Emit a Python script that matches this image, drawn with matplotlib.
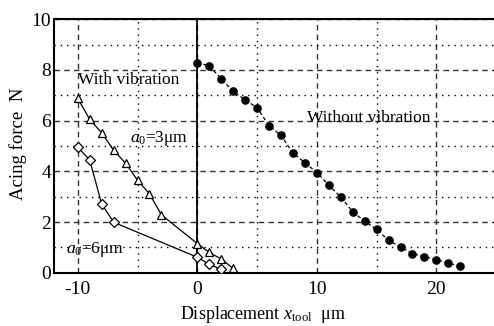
import matplotlib
matplotlib.use("Agg")
import matplotlib.pyplot as plt
from matplotlib.ticker import MultipleLocator

plt.rcParams['font.family'] = ['Liberation Serif', 'DejaVu Serif']
plt.rcParams['mathtext.fontset'] = 'custom'
plt.rcParams['mathtext.rm'] = 'Liberation Serif'
plt.rcParams['mathtext.it'] = 'Liberation Serif:italic'
plt.rcParams['axes.unicode_minus'] = False

# without vibration
x_novib = list(range(0, 23))
f_novib = [8.29, 8.16, 7.65, 7.15, 6.82, 6.51, 5.80, 5.42, 4.72, 4.34, 3.95, 3.45,
           2.99, 2.40, 2.03, 1.71, 1.28, 1.01, 0.75, 0.63, 0.51, 0.38, 0.25]

# with vibration, a0 = 3 um
x_a3 = [-10, -9, -8, -7, -6, -5, -4, -3, 0, 1, 2, 3]
f_a3 = [6.88, 6.05, 5.52, 4.83, 4.32, 3.65, 3.11, 2.28, 1.15, 0.80, 0.54, 0.17]

# with vibration, a0 = 6 um
x_a6 = [-10, -9, -8, -7, 0, 1, 2]
f_a6 = [4.95, 4.45, 2.71, 1.99, 0.61, 0.33, 0.13]

fig = plt.figure(figsize=(4.94, 3.26), dpi=100)
ax = fig.add_axes([0.109, 0.1635, 0.893, 0.7775])

ax.set_xlim(-12.0, 24.9)
ax.set_ylim(0, 10)
ax.xaxis.set_major_locator(MultipleLocator(10))
ax.xaxis.set_minor_locator(MultipleLocator(5))
ax.yaxis.set_major_locator(MultipleLocator(2))
ax.yaxis.set_minor_locator(MultipleLocator(1))
ax.grid(which='major', color='#333333', ls=(0, (4, 3)), lw=1.0)
ax.grid(which='minor', color='black', ls=(0, (1, 3.5)), lw=1.0)
ax.tick_params(which='both', length=0, labelsize=14)
ax.tick_params(axis='x', pad=6)
ax.tick_params(axis='y', pad=2)
ax.axvline(0, color='black', lw=1.3, zorder=2)

for side in ['left', 'top', 'bottom']:
    ax.spines[side].set_linewidth(1.5)
ax.spines['right'].set_visible(False)

ax.plot(x_novib, f_novib, color='black', ls=(0, (3, 2)), lw=0.9,
        marker='o', ms=5.2, mfc='black', mec='black', zorder=3)
ax.plot(x_a3, f_a3, color='black', lw=0.9, marker='^', ms=6.3,
        mfc='white', mec='black', mew=0.9, zorder=3)
ax.plot(x_a6, f_a6, color='black', lw=0.9, marker='D', ms=5.3,
        mfc='white', mec='black', mew=0.9, zorder=3)

ax.text(-10.0, 7.6, 'With vibration', fontsize=12.5, va='center', ha='left')
ax.text(-5.6, 5.3, '$a_0$=3μm', fontsize=12.5, va='center', ha='left')
ax.text(-11.0, 0.9, '$a_0$=6μm', fontsize=12.5, va='center', ha='left')
ax.text(9.2, 6.1, 'Without vibration', fontsize=12.5, va='center', ha='left')

fig.text(0.532, 0.034, 'Displacement $x_{\\mathrm{tool}}$  μm', fontsize=13,
         ha='center', va='center')
fig.text(0.036, 0.56, 'Acing force  N', fontsize=13.5, rotation=90,
         ha='center', va='center')

fig.savefig('out.png', dpi=100, facecolor='white')
